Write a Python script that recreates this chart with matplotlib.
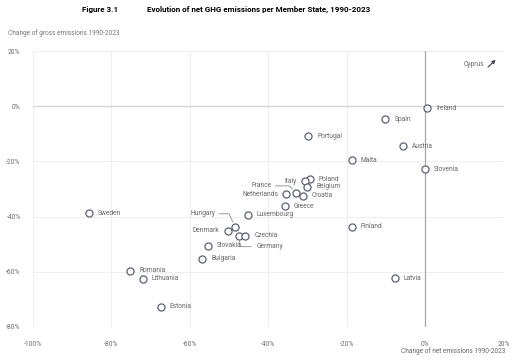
import matplotlib.pyplot as plt

plt.rcParams['font.family'] = ['Roboto', 'DejaVu Sans']

# change of net emissions 1990-2023 (x) and change of gross emissions (y), in %
countries = ['Ireland', 'Spain', 'Portugal', 'Austria', 'Malta', 'Slovenia',
             'Poland', 'Italy', 'Belgium', 'France', 'Croatia', 'Netherlands',
             'Greece', 'Luxembourg', 'Hungary', 'Denmark', 'Germany', 'Czechia',
             'Slovakia', 'Bulgaria', 'Finland', 'Sweden', 'Romania', 'Lithuania',
             'Estonia', 'Latvia']
net_change = [0.5, -10.2, -29.8, -5.6, -18.7, -0.2,
              -29.5, -30.8, -30.1, -32.9, -31.3, -35.5,
              -35.9, -45.3, -48.5, -50.4, -47.6, -45.9,
              -55.5, -56.9, -18.7, -85.8, -75.2, -72.0,
              -67.5, -7.8]
gross_change = [-0.7, -4.7, -10.9, -14.5, -19.5, -22.8,
                -26.4, -27.2, -29.2, -31.4, -32.4, -31.9,
                -36.2, -39.4, -43.7, -45.2, -46.9, -47.0,
                -50.5, -55.3, -43.7, -38.7, -59.6, -62.6,
                -72.7, -62.4]
ticks = [-100, -80, -60, -40, -20, 0, 20]
yticks = [-80, -60, -40, -20, 0, 20]

# label placement (pixel offsets) for labels not simply to the right
left_labels = {'Italy': (-8, 0), 'Netherlands': (-8, 0), 'Denmark': (-8, 0)}
leader_labels = {
    'France': ((-25, 7), 'angle,angleA=0,angleB=135'),
    'Hungary': ((-20, 13), 'angle,angleA=0,angleB=115'),
}

fig = plt.figure(figsize=(5.12, 3.62), dpi=100)
ax = fig.add_axes([0.0645, 0.0967, 0.9195, 0.7623])

ax.set_xlim(-100, 20)
ax.set_ylim(-80, 20)
for s in ax.spines.values():
    s.set_visible(False)
ax.set_xticks(ticks)
ax.set_yticks(yticks)
ax.set_xticklabels([f'{t}%' for t in ticks])
ax.set_yticklabels([f'{t}%' for t in yticks])
ax.tick_params(length=0, labelsize=4.8, labelcolor='#6a6a6a')
ax.tick_params(axis='x', pad=10)
ax.tick_params(axis='y', pad=9)
ax.grid(True, color='#efefef', linewidth=0.8)
ax.set_axisbelow(True)
ax.axhline(0, color='#d6d6d6', linewidth=1.0, zorder=1)
ax.axvline(0, color='#a8a8a8', linewidth=0.9, zorder=1)

ax.scatter(net_change, gross_change, s=26, facecolor='white',
           edgecolor='#5a6272', linewidth=0.9, zorder=3)

txt = dict(fontsize=4.8, color='#666666', va='center')
for name, x, y in zip(countries, net_change, gross_change):
    if name in left_labels:
        ax.annotate(name, (x, y), xytext=left_labels[name],
                    textcoords='offset pixels', ha='right', **txt)
    elif name in leader_labels:
        off, cs = leader_labels[name]
        ax.annotate(name, (x, y), xytext=off, textcoords='offset pixels',
                    ha='right', **txt,
                    arrowprops=dict(arrowstyle='-', color='#888888', lw=0.6,
                                    connectionstyle=cs, shrinkA=1, shrinkB=4))
    elif name == 'Germany':
        ax.annotate(name, (x, y), xytext=(18, -11), textcoords='offset pixels',
                    ha='left', **txt,
                    arrowprops=dict(arrowstyle='-', color='#888888', lw=0.6,
                                    connectionstyle='angle,angleA=0,angleB=-80',
                                    shrinkA=2, shrinkB=4))
    else:
        ax.annotate(name, (x, y), xytext=(9, 0), textcoords='offset pixels',
                    ha='left', **txt)

# Cyprus is off the chart
ax.annotate('', xy=(0.987, 0.975), xytext=(0.962, 0.935), xycoords='axes fraction',
            arrowprops=dict(arrowstyle='-|>', color='#3a4250', lw=0.8,
                            mutation_scale=5))
ax.text(0.958, 0.953, 'Cyprus', transform=ax.transAxes, ha='right', **txt)

fig.text(0.16, 0.975, 'Figure 3.1', fontsize=5.8, fontweight='bold', va='center')
fig.text(0.287, 0.975, 'Evolution of net GHG emissions per Member State, 1990-2023',
         fontsize=5.8, fontweight='bold', va='center')
fig.text(0.016, 0.909, 'Change of gross emissions 1990-2023', fontsize=4.7,
         color='#777777', va='center')
fig.text(0.988, 0.03, 'Change of net emissions 1990-2023', fontsize=4.7,
         color='#666666', va='center', ha='right')

fig.savefig('out.png', dpi=100)
